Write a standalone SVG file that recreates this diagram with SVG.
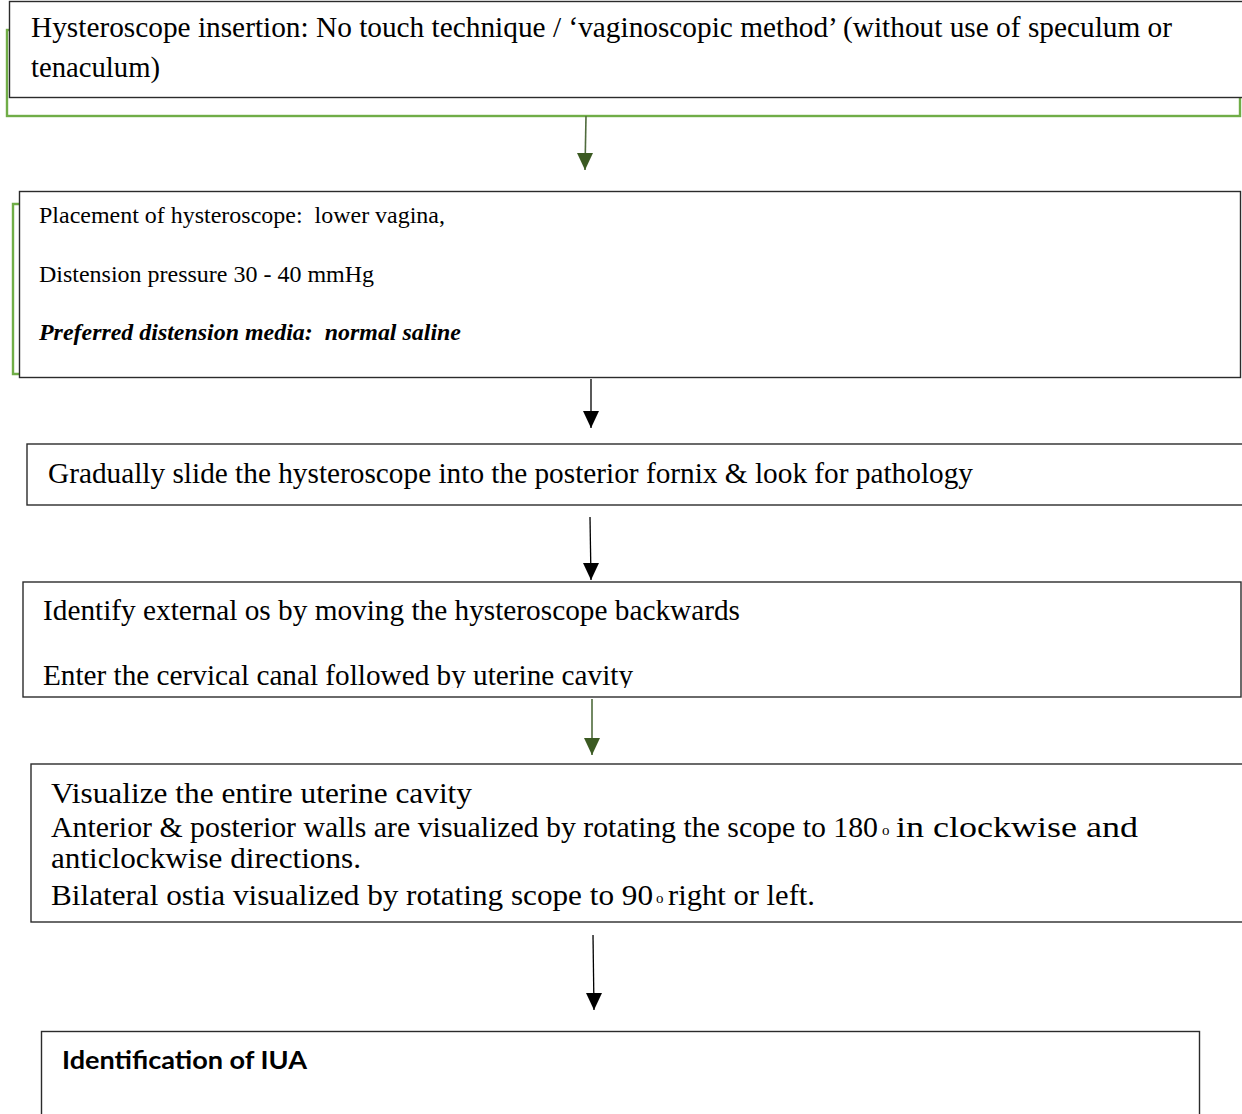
<svg xmlns="http://www.w3.org/2000/svg" width="1242" height="1114" viewBox="0 0 1242 1114">
<style>
.box{fill:#fff;stroke:#2b2b2b;stroke-width:1.4}
.grn{fill:none;stroke:#70ad47;stroke-width:2.4}
.tnr{font-family:"Liberation Serif","Times New Roman",serif;fill:#000}
.cam{font-family:"Liberation Serif","DejaVu Serif",serif;fill:#000}
.cal{font-family:Lato,"Open Sans",sans-serif;font-weight:bold;fill:#000}
.ca{stroke:#000;stroke-width:1.3;fill:none}
.cg{stroke:#4f6b3c;stroke-width:1.6;fill:none}
</style>
<defs>
<marker id="ahK" markerUnits="userSpaceOnUse" markerWidth="16" markerHeight="17" refX="8" refY="17" orient="0" viewBox="0 0 16 17"><path d="M0,0 L16,0 L8,17 z" fill="#000"/></marker>
<marker id="ahG" markerUnits="userSpaceOnUse" markerWidth="16" markerHeight="17" refX="8" refY="17" orient="0" viewBox="0 0 16 17"><path d="M0,0 L16,0 L8,17 z" fill="#3b5a22"/></marker>
<clipPath id="c4"><rect x="23" y="582" width="1219" height="106"/></clipPath>
</defs>
<rect width="1242" height="1114" fill="#fff"/>

<g id="node1">
<rect class="grn" x="7" y="30" width="1233" height="86"/>
<rect class="box" x="9.5" y="1.5" width="1250" height="96"/>
<text class="tnr" x="31" y="37" font-size="28.5" textLength="1141" lengthAdjust="spacingAndGlyphs">Hysteroscope insertion: No touch technique / ‘vaginoscopic method’ (without use of speculum or</text>
<text class="tnr" x="31" y="77" font-size="28.5" textLength="129" lengthAdjust="spacingAndGlyphs">tenaculum)</text>
</g>

<g id="node2">
<path class="grn" d="M19,204 H13 V374 H19"/>
<rect class="box" x="19.5" y="191.5" width="1221" height="186"/>
<text class="tnr" x="39" y="223" font-size="23.5" textLength="406" lengthAdjust="spacingAndGlyphs" xml:space="preserve">Placement of hysteroscope:  lower vagina,</text>
<text class="tnr" x="39" y="282" font-size="23.5" textLength="335" lengthAdjust="spacingAndGlyphs">Distension pressure 30 - 40 mmHg</text>
<text class="tnr" x="39" y="340" font-size="23.5" font-weight="bold" font-style="italic" textLength="422" lengthAdjust="spacingAndGlyphs" xml:space="preserve">Preferred distension media:  normal saline</text>
</g>

<g id="node3">
<rect class="box" x="27" y="444" width="1230" height="61"/>
<text class="tnr" x="48" y="483" font-size="29" textLength="925" lengthAdjust="spacingAndGlyphs">Gradually slide the hysteroscope into the posterior fornix &amp; look for pathology</text>
</g>

<g id="node4">
<rect class="box" x="23" y="582" width="1218" height="115"/>
<g clip-path="url(#c4)">
<text class="tnr" x="43" y="620" font-size="29" textLength="697" lengthAdjust="spacingAndGlyphs">Identify external os by moving the hysteroscope backwards</text>
<text class="tnr" x="43" y="685" font-size="29" textLength="590" lengthAdjust="spacingAndGlyphs">Enter the cervical canal followed by uterine cavity</text>
</g>
</g>

<g id="node5">
<rect class="box" x="31" y="764" width="1230" height="158"/>
<text class="cam" x="51" y="803" font-size="28.5" textLength="421" lengthAdjust="spacingAndGlyphs">Visualize the entire uterine cavity</text>
<text class="cam" x="51" y="837" font-size="28.5" textLength="827" lengthAdjust="spacingAndGlyphs">Anterior &amp; posterior walls are visualized by rotating the scope to 180</text>
<text class="cam" x="882" y="835" font-size="15">o</text>
<text class="cam" x="896" y="837" font-size="28.5" textLength="242" lengthAdjust="spacingAndGlyphs">in clockwise and</text>
<text class="cam" x="51" y="868" font-size="28.5" textLength="310" lengthAdjust="spacingAndGlyphs">anticlockwise directions.</text>
<text class="cam" x="51" y="905" font-size="28.5" textLength="602" lengthAdjust="spacingAndGlyphs">Bilateral ostia visualized by rotating scope to 90</text>
<text class="cam" x="656" y="903" font-size="15">o</text>
<text class="cam" x="668" y="905" font-size="28.5" textLength="147" lengthAdjust="spacingAndGlyphs">right or left.</text>
</g>

<g id="node6">
<rect class="box" x="41.5" y="1031.5" width="1158" height="100"/>
<text class="cal" x="62" y="1069" font-size="25" textLength="245" lengthAdjust="spacingAndGlyphs">Identification of IUA</text>
</g>

<g id="connectors">
<line class="cg" x1="586" y1="116" x2="585" y2="170" marker-end="url(#ahG)"/>
<line class="ca" x1="591" y1="379" x2="591" y2="428" marker-end="url(#ahK)"/>
<line class="ca" x1="590" y1="517" x2="591" y2="580" marker-end="url(#ahK)"/>
<line class="cg" x1="592" y1="699" x2="592" y2="755" marker-end="url(#ahG)"/>
<line class="ca" x1="593" y1="935" x2="594" y2="1010" marker-end="url(#ahK)"/>
</g>
</svg>
